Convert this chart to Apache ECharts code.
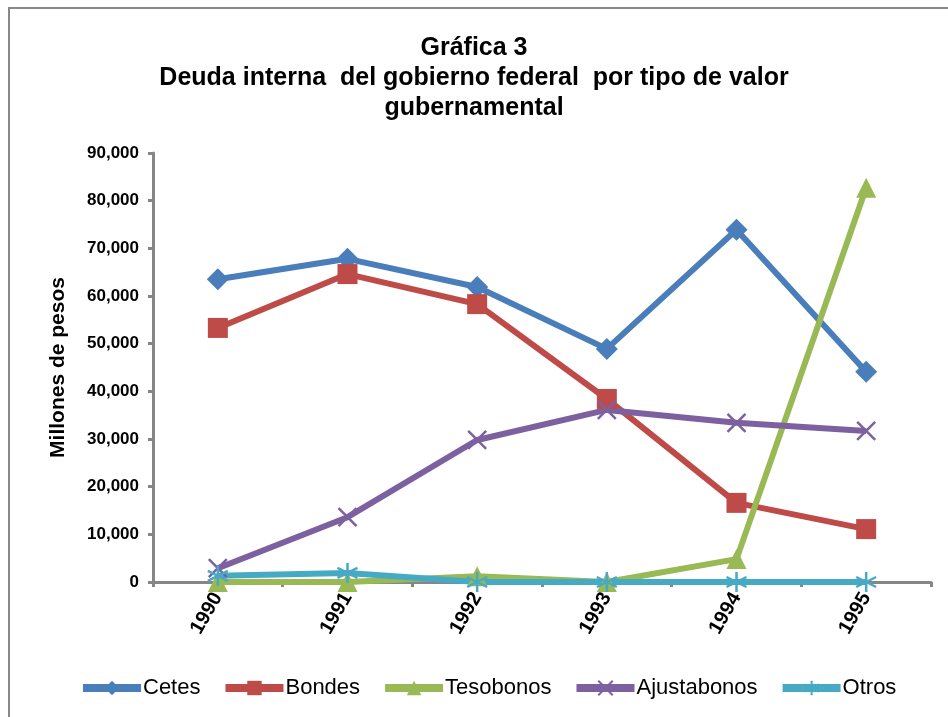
<!DOCTYPE html>
<html>
<head>
<meta charset="utf-8">
<script src="https://cdn.jsdelivr.net/npm/echarts@6/dist/echarts.min.js"></script>
<style>
  body { margin: 0; background: #fff; }
  #chart { width: 948px; height: 717px; }
</style>
</head>
<body>
<div id="chart"></div>
<script>
// años
const years = ['1990', '1991', '1992', '1993', '1994', '1995']

// millones de pesos
const cetes = [63500, 67800, 61900, 48900, 73900, 44100]
const bondes = [53300, 64600, 58300, 38400, 16600, 11100]
const tesobonos = [0, 0, 1200, 0, 4800, 82700]
const ajustabonos = [2900, 13600, 29800, 36100, 33400, 31700]
const otros = [1300, 1900, 0, 0, 0, 0]

const seriesNames = ['Cetes', 'Bondes', 'Tesobonos', 'Ajustabonos', 'Otros']
const colors = ['#4A7EBB', '#BE4B48', '#98B954', '#7D60A0', '#46AAC5']

const crossPath = 'path://M0,0L10,10M10,0L0,10'
const starPath = 'path://M5,0L5,10M0,2.5L10,7.5M0,7.5L10,2.5'

function makeSeries(name, data, color, symbol, size, stroke) {
  return {
    name: name,
    type: 'line',
    data: data,
    symbol: symbol,
    symbolSize: size,
    showAllSymbol: true,
    lineStyle: { color: color, width: 6 },
    itemStyle: stroke
      ? { color: 'none', borderColor: color, borderWidth: 2.5 }
      : { color: color },
    z: 2
  }
}

const myChart = echarts.init(document.getElementById('chart'))
const option = {
  backgroundColor: '#fff',
  color: colors,
  textStyle: { fontFamily: 'Liberation Sans, Arial, sans-serif' },
  title: {
    text: 'Gráfica 3\nDeuda interna  del gobierno federal  por tipo de valor\ngubernamental',
    left: 'center',
    top: 28,
    textStyle: {
      fontSize: 25,
      fontWeight: 'bold',
      color: '#000',
      lineHeight: 30,
      fontFamily: 'Liberation Sans, Arial, sans-serif'
    }
  },
  graphic: [{
    type: 'rect',
    shape: { x: 9, y: 8, width: 960, height: 740 },
    style: { fill: 'none', stroke: '#888', lineWidth: 2 },
    silent: true
  }],
  legend: {
    top: 672,
    left: 74,
    itemWidth: 58,
    itemHeight: 18,
    itemGap: 21,
    data: seriesNames,
    lineStyle: { width: 8 },
    textStyle: { fontSize: 22, color: '#000', padding: [0, 0, 0, -3], fontFamily: 'Liberation Sans, Arial, sans-serif' }
  },
  grid: {
    left: 153,
    right: 17,
    top: 153,
    bottom: 135,
    containLabel: false
  },
  xAxis: {
    type: 'category',
    data: years,
    boundaryGap: true,
    axisLine: { lineStyle: { color: '#868686', width: 3 } },
    axisTick: { show: true, length: 5, lineStyle: { color: '#868686', width: 3 } },
    axisLabel: {
      rotate: 60,
      interval: 0,
      fontSize: 20,
      fontWeight: 'bold',
      color: '#000',
      margin: 12
    }
  },
  yAxis: {
    type: 'value',
    min: 0,
    max: 90000,
    interval: 10000,
    name: 'Millones de pesos',
    nameLocation: 'middle',
    nameGap: 84,
    nameTextStyle: { fontSize: 21, fontWeight: 'bold', color: '#000' },
    axisLine: { show: true, lineStyle: { color: '#868686', width: 3 } },
    axisTick: { show: true, length: 5, lineStyle: { color: '#868686', width: 3 } },
    splitLine: { show: false },
    axisLabel: {
      fontSize: 17,
      fontWeight: 'bold',
      color: '#000',
      margin: 14,
      formatter: v => v.toLocaleString('en-US')
    }
  },
  series: [
    makeSeries('Cetes', cetes, colors[0], 'diamond', 22, false),
    makeSeries('Bondes', bondes, colors[1], 'rect', 20, false),
    makeSeries('Tesobonos', tesobonos, colors[2], 'triangle', 20, false),
    makeSeries('Ajustabonos', ajustabonos, colors[3], crossPath, 18, true),
    makeSeries('Otros', otros, colors[4], starPath, 20, true)
  ]
}
myChart.setOption(option)
</script>
</body>
</html>
